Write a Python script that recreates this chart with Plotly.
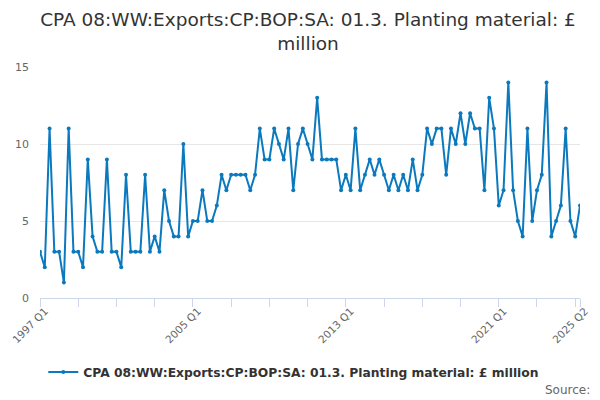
import plotly.graph_objects as go

years = list(range(1997, 2026))
quarters = [f"{y} Q{q}" for y in years for q in range(1, 5)][:114]

values = [
    3, 2, 11, 3,
    3, 1, 11, 3,
    3, 2, 9, 4,
    3, 3, 9, 3,
    3, 2, 8, 3,
    3, 3, 8, 3,
    4, 3, 7, 5,
    4, 4, 10, 4,
    5, 5, 7, 5,
    5, 6, 8, 7,
    8, 8, 8, 8,
    7, 8, 11, 9,
    9, 11, 10, 9,
    11, 7, 10, 11,
    10, 9, 13, 9,
    9, 9, 9, 7,
    8, 7, 11, 7,
    8, 9, 8, 9,
    8, 7, 8, 7,
    8, 7, 9, 7,
    8, 11, 10, 11,
    11, 8, 11, 10,
    12, 10, 12, 11,
    11, 7, 13, 11,
    6, 7, 14, 7,
    5, 4, 11, 5,
    7, 8, 14, 4,
    5, 6, 11, 5,
    4, 6,
]

series_name = "CPA 08:WW:Exports:CP:BOP:SA: 01.3. Planting material: £ million"
labelled = ["1997 Q1", "2005 Q1", "2013 Q1", "2021 Q1", "2025 Q2"]
y_ticks = [0, 5, 10, 15]

tick_positions = quarters[::8] + [quarters[-1]]
tick_text = [q if q in labelled else "" for q in tick_positions]

fig = go.Figure()
fig.add_trace(go.Scatter(
    x=quarters, y=values, mode="lines+markers", name=series_name,
    line=dict(color="#0b79be", width=2),
    marker=dict(color="#0b79be", size=4),
))

font = "DejaVu Sans, Verdana, sans-serif"
fig.update_layout(
    width=600, height=400,
    margin=dict(l=32, r=28, t=59, b=110, autoexpand=False),
    paper_bgcolor="white", plot_bgcolor="white",
    font=dict(family=font, color="#666666", size=11),
    title=dict(
        text="CPA 08:WW:Exports:CP:BOP:SA: 01.3. Planting material: £<br>million",
        x=0.5, xanchor="center", y=0.955, yanchor="top",
        font=dict(size=18.5, color="#333333", family=font),
        automargin=False,
    ),
    showlegend=True,
    legend=dict(
        orientation="h", x=0.47, xanchor="center", y=-0.32, yanchor="middle",
        font=dict(size=12.3, color="#333333", family=font, weight="bold"),
        itemwidth=30,
    ),
    xaxis=dict(
        type="category", range=[0, len(quarters) - 1],
        tickmode="array", tickvals=tick_positions, ticktext=tick_text,
        tickangle=-45, ticks="outside", ticklen=8, tickcolor="#ccd6eb",
        ticklabelshift=5, ticklabelstandoff=-6,
        showline=True, linecolor="#ccd6eb", linewidth=1,
        showgrid=False, zeroline=False, automargin=False,
        tickfont=dict(size=10.5, color="#666666"),
    ),
    yaxis=dict(
        range=[0, 15], tickvals=y_ticks,
        showgrid=True, gridcolor="#e6e6e6", zeroline=False,
        showline=False, ticks="", ticklabelstandoff=10, automargin=False,
        tickfont=dict(size=11, color="#666666"),
    ),
    annotations=[dict(
        text="Source:", xref="paper", yref="paper", x=1.023, y=-0.399,
        xanchor="right", yanchor="middle", showarrow=False,
        font=dict(size=12, color="#666666", family=font),
    )],
)

fig.write_html("out.html")
